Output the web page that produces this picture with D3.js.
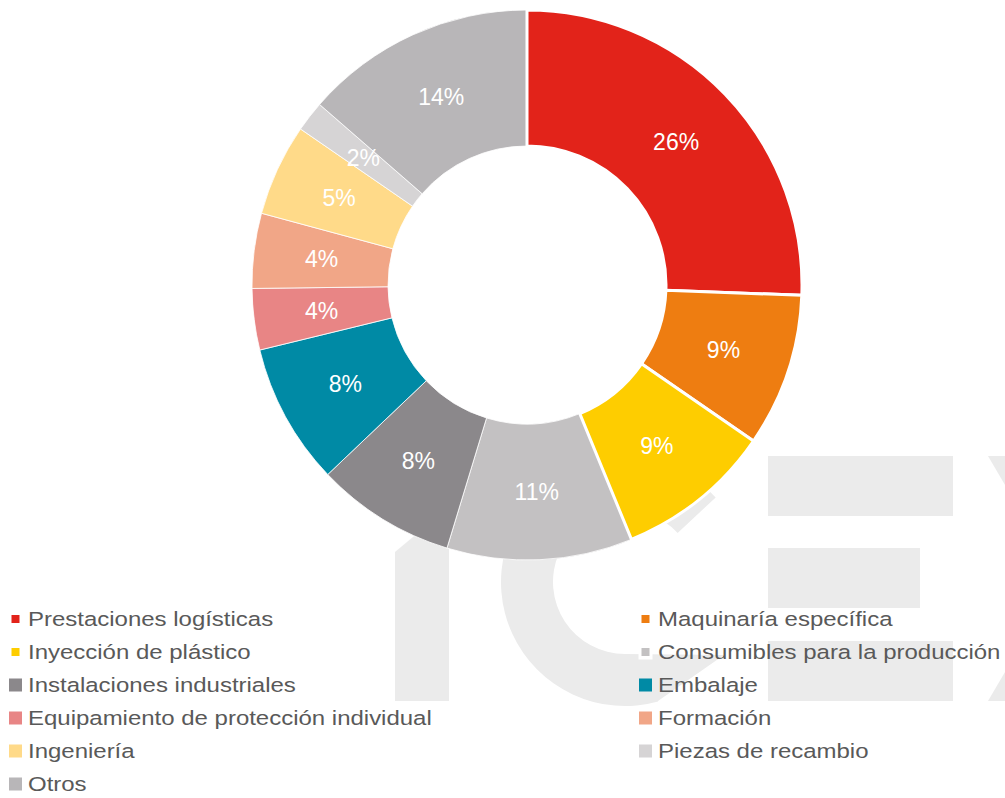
<!DOCTYPE html>
<html lang="es">
<head>
    <meta charset="UTF-8">
    <title>Distribución por sector</title>
    <script src="https://d3js.org/d3.v7.min.js"></script>
    <style>
        body { margin: 0; background: #fff; }
        text { font-family: Arial, "Liberation Sans", sans-serif; }
    </style>
</head>
<body>
    <svg id="chart" width="1005" height="798"></svg>
    <script>
        // categories in clockwise order from 12 o'clock
        const categories = [
            "Prestaciones logísticas",
            "Maquinaría específica",
            "Inyección de plástico",
            "Consumibles para la producción",
            "Instalaciones industriales",
            "Embalaje",
            "Equipamiento de protección individual",
            "Formación",
            "Ingeniería",
            "Piezas de recambio",
            "Otros"
        ];
        const shares = [25.6, 9.0, 9.2, 10.9, 8.2, 8.3, 3.6, 4.4, 5.4, 1.8, 13.6];
        const colors = ["#E2231A", "#EE7D11", "#FECD00", "#C3C1C2", "#8B888B", "#008AA5",
                        "#E88585", "#F1A687", "#FFDA89", "#D6D4D5", "#B8B6B8"];

        const data = categories.map((c, i) => ({ name: c, value: shares[i], color: colors[i], idx: i }));

        const svg = d3.select("#chart");
        const cx = 527, cy = 285;
        const outerR = 275, innerR = 139;

        // --- background watermark (ICEX) ---
        const wm = svg.append("g").attr("fill", "#EBEBEB");
        wm.append("path").attr("d", "M395,701L449,701L449,507L395,552Z");

        const rad = a => a * Math.PI / 180;
        const ccx = 625, ccy = 582, cR = 124, cr = 72;
        const cPath = d3.path();
        cPath.moveTo(658, 701);
        cPath.arc(ccx, ccy, cR, rad(74.5), rad(317), false);
        cPath.arc(ccx, ccy, cr, rad(317), rad(90), true);
        cPath.lineTo(724, 655);
        cPath.closePath();
        wm.append("path").attr("d", cPath.toString());

        [[768, 456, 185], [768, 548, 152], [768, 641, 185]].forEach(([x, y, w]) => {
            wm.append("rect").attr("x", x).attr("y", y).attr("width", w).attr("height", 60);
        });
        wm.append("path").attr("d", "M988,456L1080,456L1160,592L1068,592Z");
        wm.append("path").attr("d", "M988,701L1080,701L1160,565L1068,565Z");

        // --- donut ---
        const pie = d3.pie().sort(null).value(d => d.value);
        const arc = d3.arc().innerRadius(innerR).outerRadius(outerR);
        const arcs = pie(data);

        const g = svg.append("g").attr("transform", `translate(${cx},${cy})`);

        const slices = g.selectAll("path.slice")
            .data(arcs)
            .join("path")
            .attr("class", "slice")
            .attr("d", arc)
            .attr("fill", d => d.data.color)
            .attr("stroke", "#fff")
            .attr("stroke-width", d => d.data.idx < 3 ? 3 : 0.8)
            .attr("stroke-linejoin", "round");
        slices.filter(d => d.data.idx < 3).raise();

        g.selectAll("text.lbl")
            .data(arcs)
            .join("text")
            .attr("class", "lbl")
            .attr("transform", d => `translate(${arc.centroid(d)})`)
            .attr("text-anchor", "middle")
            .attr("dy", "0.36em")
            .attr("fill", "#fff")
            .style("font-size", "23px")
            .text(d => Math.round(d.data.value) + "%");

        // --- legend ---
        const legend = svg.append("g");
        const rowY = i => 619 + Math.floor(i / 2) * 33;
        const colX = i => i % 2 === 0 ? 15.5 : 645.5;

        data.forEach((d, i) => {
            const x = colX(i), y = rowY(i);
            const small = i < 4;
            const s = small ? 8 : 13;
            if (small) {
                legend.append("rect")
                    .attr("x", x - 7).attr("y", y - 7.5)
                    .attr("width", 14).attr("height", 15)
                    .attr("fill", "#fff");
            }
            legend.append("rect")
                .attr("x", x - s / 2).attr("y", y - s / 2)
                .attr("width", s).attr("height", s)
                .attr("fill", d.color);
            legend.append("text")
                .attr("transform", `translate(${x + 12.5},${y}) scale(1.17,1)`)
                .attr("dy", "0.36em")
                .attr("fill", "#595959")
                .style("font-size", "20.5px")
                .text(d.name);
        });
    </script>
</body>
</html>
